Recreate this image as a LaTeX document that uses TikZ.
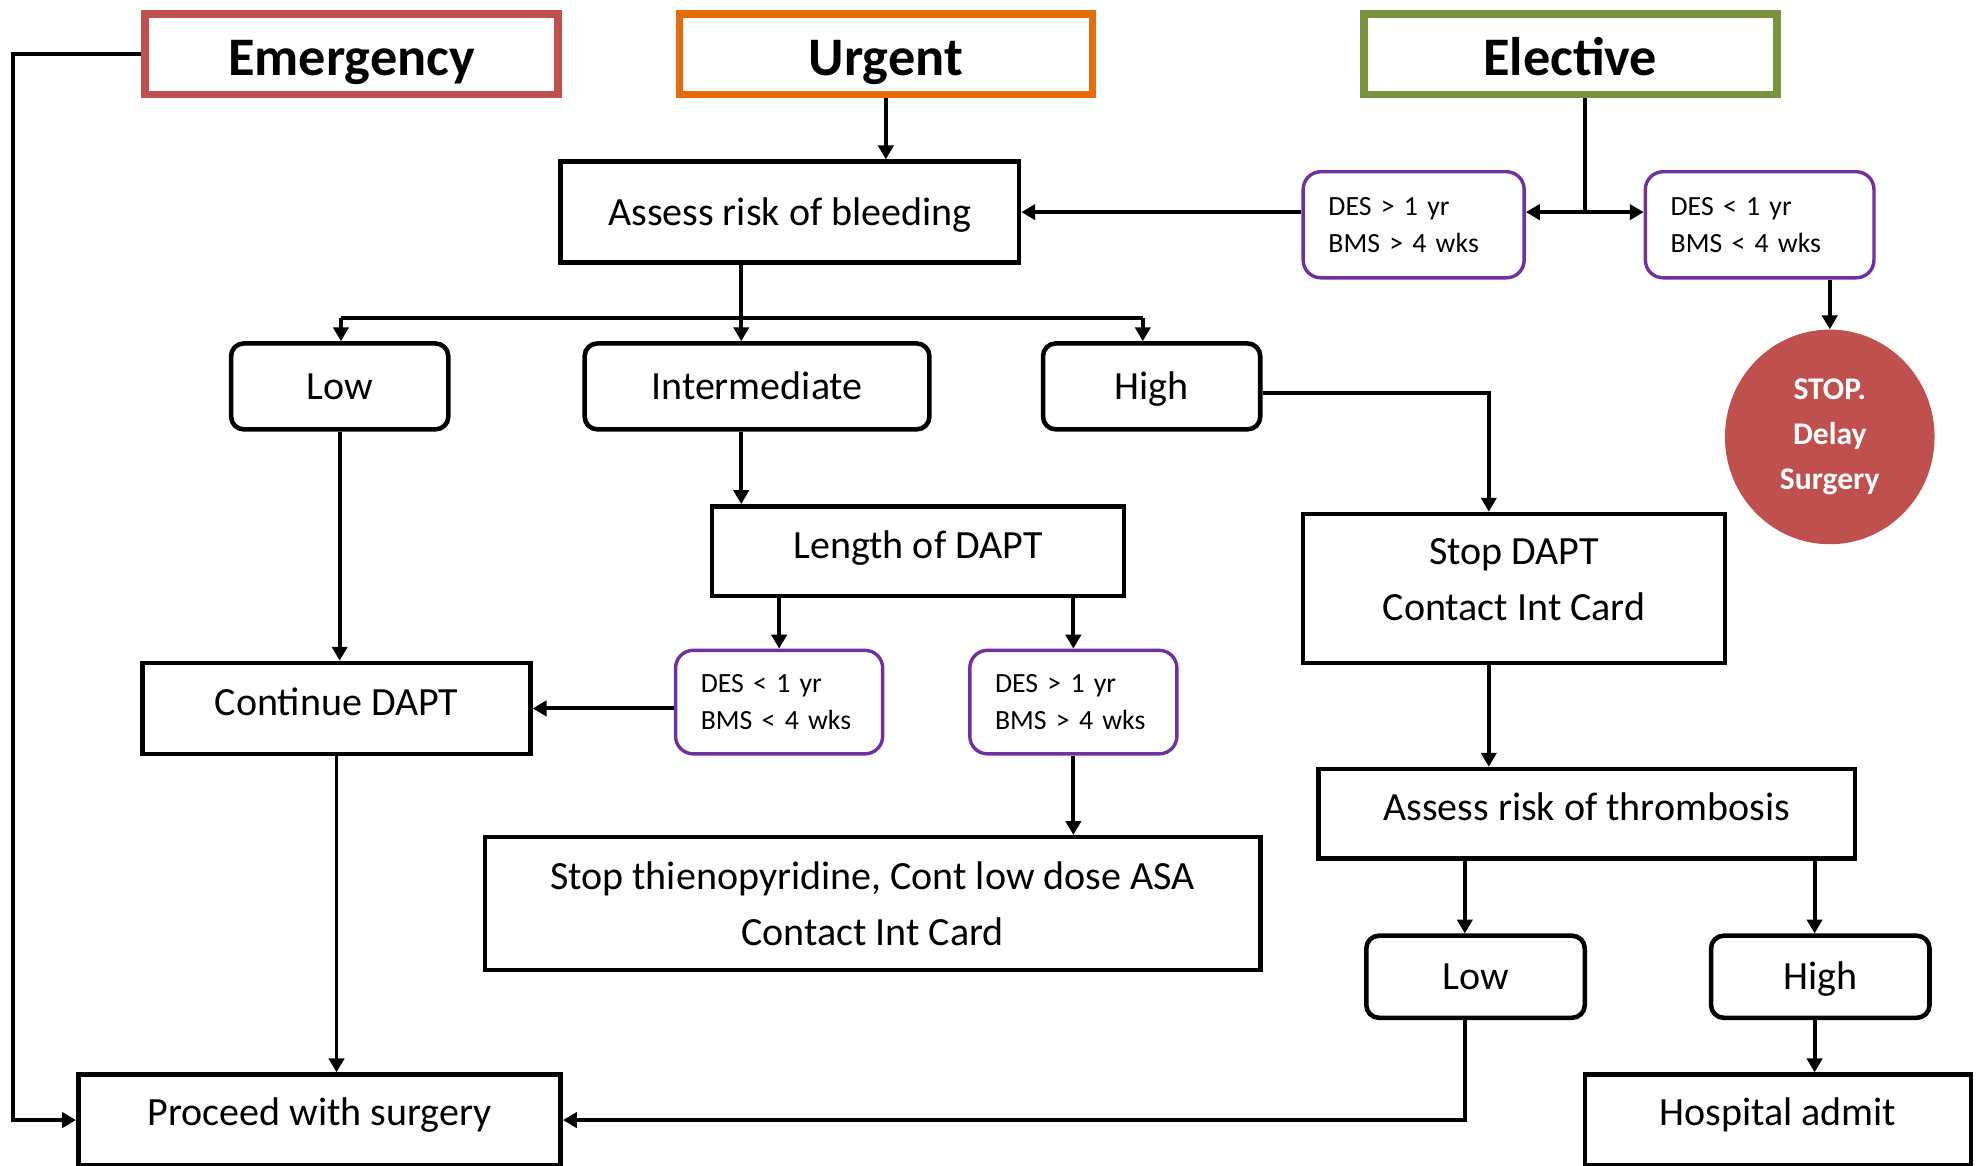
\documentclass[tikz,border=0pt]{standalone}
\usepackage{fontspec}
\setmainfont{Carlito}
\usetikzlibrary{arrows.meta,shapes.geometric}
\definecolor{emred}{HTML}{C0504D}
\definecolor{urorange}{HTML}{E46C0A}
\definecolor{elgreen}{HTML}{77933C}
\definecolor{despurple}{HTML}{7030A0}
\newcommand\hdrfnt{\bfseries\fontsize{43}{50}\selectfont}
\newcommand\mainfnt{\fontsize{31.7}{44}\selectfont}
\newcommand\smallfnt{\fontsize{22}{29.5}\selectfont}
\newcommand\stopfnt{\bfseries\fontsize{25}{35.5}\selectfont}
\tikzset{
  hdr/.style={draw, line width=6pt, minimum width=327pt, minimum height=64pt, font=\hdrfnt, inner sep=0pt, text height=33pt, text depth=0pt},
  box/.style={draw, line width=3.6pt, font=\mainfnt, inner sep=0pt, align=center},
  sq/.style={box, text height=21pt, text depth=10pt},
  rd/.style={box, rounded corners=10pt, text height=20pt, text depth=0pt},
  desbox/.style={draw=despurple, line width=2.7pt, rounded corners=14pt, font=\smallfnt, align=left, inner xsep=20pt, inner ysep=0pt},
  plain/.style={font=\mainfnt, align=center, inner sep=0pt},
  arr/.style={line width=3.1pt, -{Triangle[length=11pt,width=12pt]}},
  ln/.style={line width=3.1pt},
}
\begin{document}
\begin{tikzpicture}[x=1pt,y=-1pt]
\useasboundingbox[fill=white] (0,0) rectangle (1568,923);
% headers
\node[hdr, draw=emred] (em) at (278.5,43) {Emergency};
\node[hdr, draw=urorange] (ur) at (701.5,43) {Urgent};
\node[hdr, draw=elgreen] (el) at (1243.5,43) {Elective};
% main boxes
\node[sq, text depth=0pt, minimum width=363pt, minimum height=80pt] (arb) at (625.5,168) {Assess risk of bleeding};
\node[desbox, text width=135pt, minimum height=84pt] (d1) at (1119.5,178) {DES {\textgreater} 1 yr\\BMS {\textgreater} 4 wks};
\node[desbox, text width=141pt, minimum height=84pt] (d2) at (1393.5,178) {DES {\textless} 1 yr\\BMS {\textless} 4 wks};
\node[ellipse, fill=emred, text=white, font=\stopfnt, align=center, inner sep=0pt, minimum width=166pt, minimum height=170pt] (stop) at (1449,346) {STOP.\\Delay\\Surgery};
\node[rd, minimum width=172pt, minimum height=68pt] (low1) at (269,306) {Low};
\node[rd, minimum width=273pt, minimum height=68pt] (int) at (599.5,306) {Intermediate};
\node[rd, minimum width=172pt, minimum height=68pt] (high1) at (912,306) {High};
\node[sq, minimum width=326pt, minimum height=71pt] (len) at (727,436.5) {Length of DAPT};
\node[sq, minimum width=307pt, minimum height=72pt] (cont) at (266.5,561) {Continue DAPT};
\node[desbox, text width=124pt, minimum height=82pt] (d3) at (617,556) {DES {\textless} 1 yr\\BMS {\textless} 4 wks};
\node[desbox, text width=124pt, minimum height=82pt] (d4) at (850,556) {DES {\textgreater} 1 yr\\BMS {\textgreater} 4 wks};
\node[box, minimum width=614pt, minimum height=105pt] (stopth) at (691,715.5) {Stop thienopyridine, Cont low dose ASA\\Contact Int Card};
\node[sq, text height=20pt, text depth=12pt, minimum width=382pt, minimum height=72pt] (proc) at (253,887) {Proceed with surgery};
\node[box, minimum width=334pt, minimum height=118pt] (sdapt) at (1199,466) {};
\node[plain] (sdaptT) at ([yshift=7pt]sdapt.center) {Stop DAPT\\Contact Int Card};
\node[sq, minimum width=425pt, minimum height=71pt] (art) at (1256.5,644.5) {Assess risk of thrombosis};
\node[rd, minimum width=173pt, minimum height=65pt] (low2) at (1168.5,773.5) {Low};
\node[rd, minimum width=173pt, minimum height=65pt] (high2) at (1441.5,773.5) {High};
\node[sq, text height=20pt, text depth=12pt, minimum width=306pt, minimum height=72pt] (hosp) at (1408,887) {Hospital admit};
% helper coordinates
\coordinate (ej) at (1255,168);
\coordinate (bj) at (587,252);
\coordinate (bl) at (270,252);
\coordinate (br) at (905,252);
\coordinate (lx) at (10,0);
\coordinate (hx) at (1179,0);
\coordinate (tl) at (1160,0);
\coordinate (th) at (1437,0);
% connectors
\draw[arr] (ur.south) -- (ur.south |- arb.north);
\draw[ln] (el.south -| ej) -- (ej);
\draw[arr] (ej) -- (ej -| d1.east);
\draw[arr] (ej) -- (ej -| d2.west);
\draw[arr] (ej -| d1.west) -- (ej -| arb.east);
\draw[arr] (stop.north |- d2.south) -- (stop.north);
\draw[ln] (arb.south -| bj) -- (bj);
\draw[ln] (bl) -- (br);
\draw[arr] (bl) -- (bl |- low1.north);
\draw[arr] (bj) -- (bj |- int.north);
\draw[arr] (br) -- (br |- high1.north);
\draw[arr] (low1.south) -- (low1.south |- cont.north);
\draw[arr] (int.south -| bj) -- (bj |- len.north);
\draw[arr] (len.south -| d3.north) -- (d3.north);
\draw[arr] (len.south -| d4.north) -- (d4.north);
\draw[arr] (d3.west |- cont.east) -- (cont.east);
\draw[arr] (d4.south) -- (d4.south |- stopth.north);
\draw[arr] (cont.south) -- (cont.south |- proc.north);
\draw[arr] (em.west) -| (lx |- proc.west) -- (proc.west);
\draw[arr] ([yshift=-5pt]high1.east) -| (hx |- sdapt.north);
\draw[arr] (hx |- sdapt.south) -- (hx |- art.north);
\draw[arr] (tl |- art.south) -- (tl |- low2.north);
\draw[arr] (th |- art.south) -- (th |- high2.north);
\draw[arr] (tl |- low2.south) |- (proc.east);
\draw[arr] (th |- high2.south) -- (th |- hosp.north);
\end{tikzpicture}
\end{document}
